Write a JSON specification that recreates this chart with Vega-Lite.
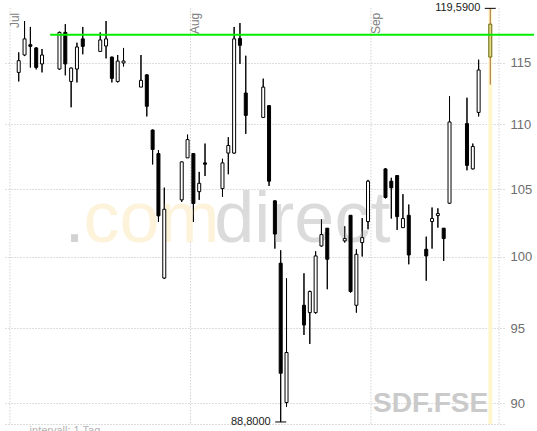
{
  "$schema": "https://vega.github.io/schema/vega-lite/v6.json",
  "width": 499,
  "height": 424,
  "autosize": {"type": "none"},
  "padding": {"left": 5, "top": 0, "right": 33, "bottom": 7},
  "background": "white",
  "config": {"view": {"stroke": null}, "font": "Liberation Sans"},
  "datasets": {
    "candles": [
      {"d":"2007-07-02T12:00:00Z","o":114.2,"h":115.86,"l":113.46,"c":115.17},
      {"d":"2007-07-03T12:00:00Z","o":115.64,"h":118.5,"l":115.55,"c":116.99},
      {"d":"2007-07-04T12:00:00Z","o":116.5,"h":118.0,"l":114.6,"c":116.36},
      {"d":"2007-07-05T12:00:00Z","o":116.23,"h":116.3,"l":114.45,"c":114.61},
      {"d":"2007-07-06T12:00:00Z","o":114.9,"h":116.14,"l":114.2,"c":115.64},
      {"d":"2007-07-09T12:00:00Z","o":114.48,"h":117.6,"l":114.42,"c":117.54},
      {"d":"2007-07-10T12:00:00Z","o":117.54,"h":118.24,"l":113.96,"c":114.9},
      {"d":"2007-07-11T12:00:00Z","o":113.46,"h":114.6,"l":111.37,"c":114.56},
      {"d":"2007-07-12T12:00:00Z","o":114.48,"h":116.67,"l":113.38,"c":116.31},
      {"d":"2007-07-13T12:00:00Z","o":116.99,"h":118.0,"l":115.7,"c":116.36},
      {"d":"2007-07-16T12:00:00Z","o":115.94,"h":117.54,"l":115.9,"c":116.9},
      {"d":"2007-07-17T12:00:00Z","o":116.39,"h":118.5,"l":115.36,"c":116.99},
      {"d":"2007-07-18T12:00:00Z","o":115.47,"h":115.5,"l":113.38,"c":113.71},
      {"d":"2007-07-19T12:00:00Z","o":113.46,"h":115.64,"l":113.38,"c":115.14},
      {"d":"2007-07-20T12:00:00Z","o":114.98,"h":116.23,"l":114.69,"c":115.14},
      {"d":"2007-07-23T12:00:00Z","o":113.0,"h":115.64,"l":113.0,"c":113.55},
      {"d":"2007-07-24T12:00:00Z","o":114.0,"h":114.05,"l":110.64,"c":111.45},
      {"d":"2007-07-25T12:00:00Z","o":109.56,"h":109.6,"l":106.88,"c":108.04},
      {"d":"2007-07-26T12:00:00Z","o":107.72,"h":107.99,"l":102.55,"c":103.0},
      {"d":"2007-07-27T12:00:00Z","o":98.49,"h":105.11,"l":98.42,"c":103.49},
      {"d":"2007-07-30T12:00:00Z","o":104.19,"h":107.1,"l":104.04,"c":107.08},
      {"d":"2007-07-31T12:00:00Z","o":107.39,"h":109.2,"l":107.39,"c":108.81},
      {"d":"2007-08-01T12:00:00Z","o":107.72,"h":107.75,"l":102.55,"c":103.92},
      {"d":"2007-08-02T12:00:00Z","o":104.81,"h":106.31,"l":104.19,"c":105.44},
      {"d":"2007-08-03T12:00:00Z","o":107.0,"h":108.5,"l":106.0,"c":106.9},
      {"d":"2007-08-06T12:00:00Z","o":105.04,"h":107.32,"l":104.42,"c":107.0},
      {"d":"2007-08-07T12:00:00Z","o":107.76,"h":109.0,"l":106.13,"c":108.35},
      {"d":"2007-08-08T12:00:00Z","o":107.76,"h":118.0,"l":107.7,"c":116.99},
      {"d":"2007-08-09T12:00:00Z","o":117.02,"h":118.33,"l":114.9,"c":116.45},
      {"d":"2007-08-10T12:00:00Z","o":112.52,"h":115.58,"l":109.26,"c":110.72},
      {"d":"2007-08-13T12:00:00Z","o":110.56,"h":113.69,"l":110.56,"c":113.0},
      {"d":"2007-08-14T12:00:00Z","o":111.5,"h":111.55,"l":105.24,"c":105.6},
      {"d":"2007-08-15T12:00:00Z","o":104.12,"h":104.15,"l":100.6,"c":101.66},
      {"d":"2007-08-16T12:00:00Z","o":99.55,"h":100.48,"l":88.8,"c":91.97},
      {"d":"2007-08-17T12:00:00Z","o":90.05,"h":98.47,"l":89.77,"c":93.35},
      {"d":"2007-08-20T12:00:00Z","o":96.58,"h":98.83,"l":94.54,"c":95.22},
      {"d":"2007-08-21T12:00:00Z","o":96.07,"h":97.6,"l":93.93,"c":97.54},
      {"d":"2007-08-22T12:00:00Z","o":96.07,"h":100.41,"l":96.0,"c":100.07},
      {"d":"2007-08-23T12:00:00Z","o":100.79,"h":102.75,"l":100.75,"c":101.62},
      {"d":"2007-08-24T12:00:00Z","o":102.09,"h":102.1,"l":97.7,"c":99.83},
      {"d":"2007-08-27T12:00:00Z","o":101.16,"h":102.23,"l":101.04,"c":101.33},
      {"d":"2007-08-28T12:00:00Z","o":103.04,"h":103.05,"l":97.46,"c":97.54},
      {"d":"2007-08-29T12:00:00Z","o":96.58,"h":100.55,"l":96.07,"c":100.19},
      {"d":"2007-08-30T12:00:00Z","o":101.04,"h":102.83,"l":100.03,"c":101.4},
      {"d":"2007-08-31T12:00:00Z","o":102.58,"h":105.7,"l":102.01,"c":105.6},
      {"d":"2007-09-03T12:00:00Z","o":106.54,"h":106.6,"l":104.3,"c":104.37},
      {"d":"2007-09-04T12:00:00Z","o":105.6,"h":105.86,"l":102.8,"c":105.1},
      {"d":"2007-09-05T12:00:00Z","o":106.03,"h":106.05,"l":101.96,"c":102.94},
      {"d":"2007-09-06T12:00:00Z","o":102.13,"h":104.62,"l":102.1,"c":102.8},
      {"d":"2007-09-07T12:00:00Z","o":103.04,"h":103.84,"l":99.47,"c":100.14},
      {"d":"2007-09-10T12:00:00Z","o":100.55,"h":101.47,"l":98.3,"c":100.07},
      {"d":"2007-09-11T12:00:00Z","o":102.58,"h":103.62,"l":100.6,"c":102.8},
      {"d":"2007-09-12T12:00:00Z","o":103.02,"h":103.56,"l":102.13,"c":103.17},
      {"d":"2007-09-13T12:00:00Z","o":102.09,"h":102.1,"l":99.71,"c":101.33},
      {"d":"2007-09-14T12:00:00Z","o":103.94,"h":112.26,"l":103.9,"c":110.2},
      {"d":"2007-09-17T12:00:00Z","o":110.07,"h":112.14,"l":106.43,"c":106.81},
      {"d":"2007-09-18T12:00:00Z","o":106.54,"h":108.5,"l":106.5,"c":108.27},
      {"d":"2007-09-19T12:00:00Z","o":110.96,"h":115.25,"l":110.64,"c":114.4},
      {"d":"2007-09-21T12:00:00Z","o":115.47,"h":119.59,"l":113.2,"c":118.24}
    ],
    "months": [
      {"m":"2007-07-01T00:00:00Z","t":"Jul"},
      {"m":"2007-08-01T00:00:00Z","t":"Aug"},
      {"m":"2007-09-01T00:00:00Z","t":"Sep"},
      {"m":"2007-09-23T00:00:00Z","t":""}
    ],
    "extremes": [
      {"d":"2007-09-21T12:00:00Z","v":119.59,"t":"119,5900"},
      {"d":"2007-08-16T12:00:00Z","v":88.8,"t":"88,8000"}
    ],
    "one": [{}]
  },
  "layer": [
    {
      "data": {"name": "candles"},
      "transform": [{"filter": "time(datum.d) < utc(2007, 8, 21)"}],
      "mark": {"type": "rule", "color": "black", "strokeWidth": 1},
      "encoding": {
        "x": {"field": "d", "type": "temporal", "title": null,
              "axis": {"orient": "bottom", "labels": false, "ticks": false, "grid": false, "domain": true, "domainDash": [1, 2], "domainColor": "#b8b8b8", "title": null},
              "scale": {"type": "utc", "domain": [{"year": 2007, "month": 7, "date": 1, "utc": true}, {"year": 2007, "month": 9, "date": 23, "utc": true}]}},
        "y": {"field": "l", "type": "quantitative", "title": null,
              "axis": {"orient": "right", "values": [90, 95, 100, 105, 110, 115], "format": "d", "grid": true, "gridDash": [1, 2], "gridColor": "#bdbdbd", "domain": false, "ticks": false, "labelPadding": 6, "labelFontSize": 13, "labelColor": "#6e6e6e", "labelFont": "Liberation Sans", "title": null},
              "scale": {"type": "log", "domain": [88.67, 120.31], "nice": false, "zero": false}},
        "y2": {"field": "h"}
      }
    },
    {
      "data": {"name": "months"},
      "mark": {"type": "rule", "strokeDash": [1, 2], "color": "#bdbdbd", "strokeWidth": 1},
      "encoding": {
        "x": {"field": "m", "type": "temporal", "title": null},
        "y": {"datum": 119.59, "type": "quantitative", "title": null},
        "y2": {"datum": 88.67}
      }
    },
    {
      "data": {"name": "one"},
      "mark": {"type": "text", "text": ".", "fontSize": 72, "align": "left", "baseline": "alphabetic", "color": "#d2d2d2"},
      "encoding": {
        "x": {"datum": {"year": 2007, "month": 7, "date": 10, "hours": 8, "minutes": 14, "utc": true}, "type": "temporal", "title": null},
        "y": {"datum": 101.08, "type": "quantitative", "title": null}
      }
    },
    {
      "data": {"name": "one"},
      "mark": {"type": "text", "text": "com", "fontSize": 72, "align": "left", "baseline": "alphabetic", "color": "#fdf3da"},
      "encoding": {
        "x": {"datum": {"year": 2007, "month": 7, "date": 13, "hours": 15, "utc": true}, "type": "temporal", "title": null},
        "y": {"datum": 101.08, "type": "quantitative", "title": null}
      }
    },
    {
      "data": {"name": "one"},
      "mark": {"type": "text", "text": "direct", "fontSize": 72, "align": "left", "baseline": "alphabetic", "color": "#dbdbdb"},
      "encoding": {
        "x": {"datum": {"year": 2007, "month": 8, "date": 5, "hours": 2, "minutes": 21, "utc": true}, "type": "temporal", "title": null},
        "y": {"datum": 101.08, "type": "quantitative", "title": null}
      }
    },
    {
      "data": {"name": "one"},
      "mark": {"type": "text", "text": "SDF.FSE", "fontSize": 28, "fontWeight": "bold", "align": "right", "baseline": "alphabetic", "color": "#cacaca"},
      "encoding": {
        "x": {"datum": {"year": 2007, "month": 9, "date": 21, "hours": 3, "minutes": 36, "utc": true}, "type": "temporal", "title": null},
        "y": {"datum": 89.46, "type": "quantitative", "title": null}
      }
    },
    {
      "data": {"name": "one"},
      "mark": {"type": "text", "text": "intervall: 1 Tag", "fontSize": 11, "align": "left", "baseline": "top", "color": "#b4b4b4"},
      "encoding": {
        "x": {"datum": {"year": 2007, "month": 7, "date": 4, "hours": 8, "minutes": 48, "utc": true}, "type": "temporal", "title": null},
        "y": {"datum": 88.605, "type": "quantitative", "title": null}
      }
    },
    {
      "data": {"name": "candles"},
      "transform": [{"filter": "time(datum.d) >= utc(2007, 8, 21)"}],
      "mark": {"type": "bar", "width": 4, "color": "#fff6cc"},
      "encoding": {
        "x": {"field": "d", "type": "temporal", "title": null},
        "y": {"field": "h", "type": "quantitative", "title": null},
        "y2": {"datum": 88.67}
      }
    },
    {
      "data": {"name": "candles"},
      "transform": [{"filter": "time(datum.d) < utc(2007, 8, 21)"}],
      "mark": {"type": "rule", "color": "black", "strokeWidth": 1},
      "encoding": {
        "x": {"field": "d", "type": "temporal", "title": null},
        "y": {"field": "l", "type": "quantitative", "title": null},
        "y2": {"field": "h"}
      }
    },
    {
      "data": {"name": "candles"},
      "transform": [{"filter": "time(datum.d) < utc(2007, 8, 21)"}],
      "mark": {"type": "bar", "width": 3, "stroke": "black", "strokeWidth": 1},
      "encoding": {
        "x": {"field": "d", "type": "temporal", "title": null},
        "y": {"field": "o", "type": "quantitative", "title": null},
        "y2": {"field": "c"},
        "fill": {"condition": {"test": "datum.c >= datum.o", "value": "white"}, "value": "black"}
      }
    },
    {
      "data": {"name": "candles"},
      "transform": [{"filter": "time(datum.d) >= utc(2007, 8, 21)"}],
      "mark": {"type": "rule", "color": "#a8682c", "strokeWidth": 1},
      "encoding": {
        "x": {"field": "d", "type": "temporal", "title": null},
        "y": {"field": "l", "type": "quantitative", "title": null},
        "y2": {"field": "h"}
      }
    },
    {
      "data": {"name": "candles"},
      "transform": [{"filter": "time(datum.d) >= utc(2007, 8, 21)"}],
      "mark": {"type": "bar", "width": 3, "stroke": "#6b6b14", "strokeWidth": 1, "fill": "#e2da80"},
      "encoding": {
        "x": {"field": "d", "type": "temporal", "title": null},
        "y": {"field": "o", "type": "quantitative", "title": null},
        "y2": {"field": "c"}
      }
    },
    {
      "data": {"name": "one"},
      "mark": {"type": "rule", "color": "#00ee00", "strokeWidth": 2},
      "encoding": {
        "x": {"datum": {"year": 2007, "month": 7, "date": 7, "hours": 21, "minutes": 39, "utc": true}, "type": "temporal", "title": null},
        "x2": {"datum": {"year": 2007, "month": 9, "date": 29, "utc": true}},
        "y": {"datum": 117.34, "type": "quantitative", "title": null}
      }
    },
    {
      "data": {"name": "months"},
      "mark": {"type": "text", "angle": 270, "align": "right", "baseline": "alphabetic", "dy": 9, "fontSize": 12, "color": "#808080"},
      "encoding": {
        "x": {"field": "m", "type": "temporal", "title": null},
        "y": {"datum": 119.21, "type": "quantitative", "title": null},
        "text": {"field": "t"}
      }
    },
    {
      "data": {"name": "extremes"},
      "mark": {"type": "tick", "orient": "horizontal", "size": 11, "thickness": 1, "color": "black", "opacity": 1},
      "encoding": {
        "x": {"field": "d", "type": "temporal", "title": null},
        "y": {"field": "v", "type": "quantitative", "title": null}
      }
    },
    {
      "data": {"name": "extremes"},
      "mark": {"type": "text", "align": "right", "baseline": "middle", "dx": -10, "fontSize": 11, "color": "#1a1a1a"},
      "encoding": {
        "x": {"field": "d", "type": "temporal", "title": null},
        "y": {"field": "v", "type": "quantitative", "title": null},
        "text": {"field": "t"}
      }
    }
  ]
}
